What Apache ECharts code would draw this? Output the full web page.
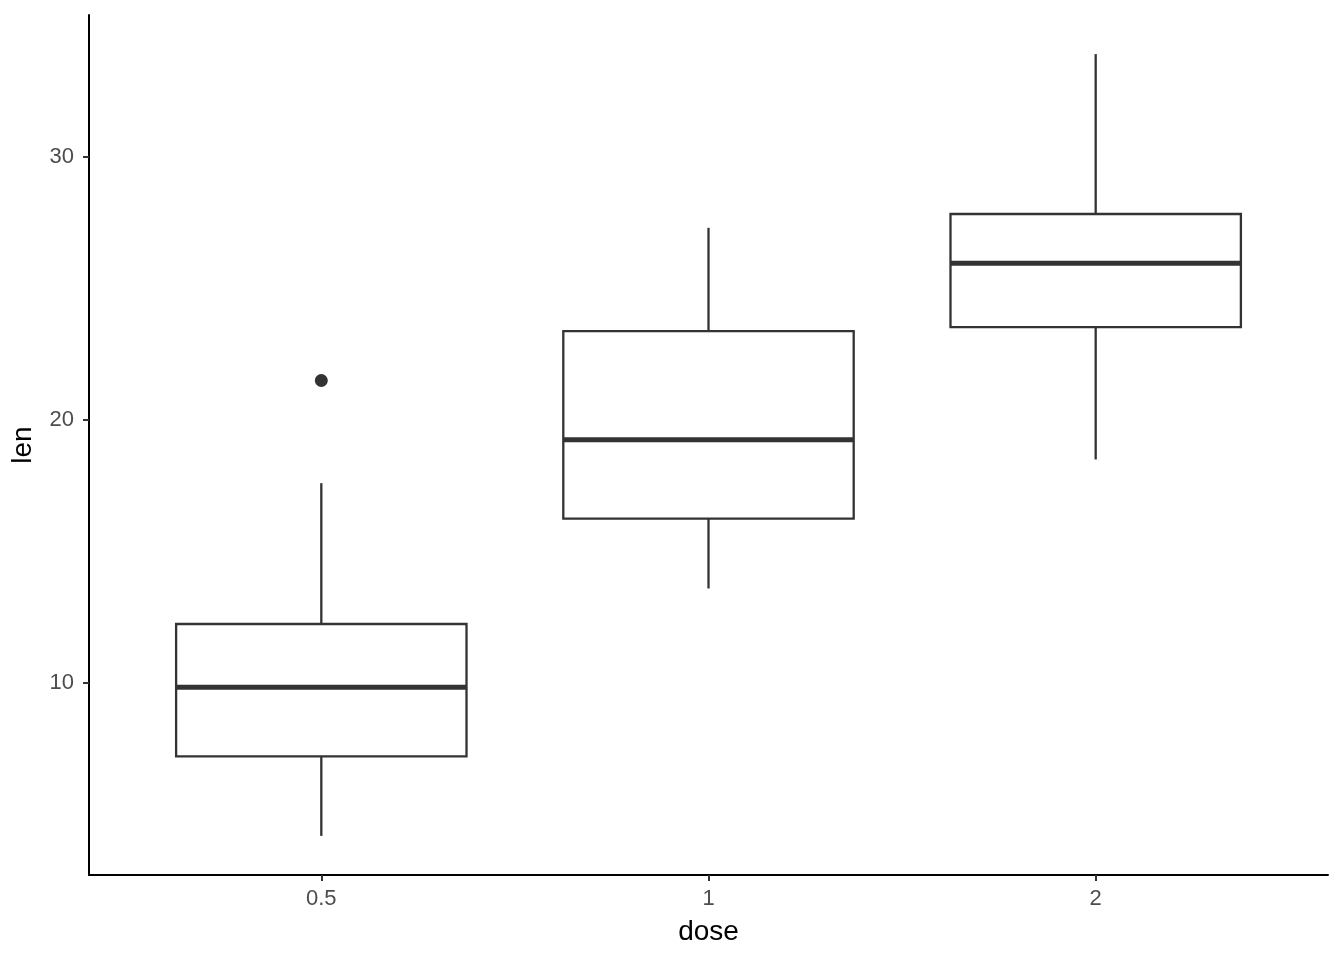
<!DOCTYPE html>
<html><head><meta charset="utf-8">
<script src="https://cdn.jsdelivr.net/npm/echarts@6/dist/echarts.min.js"></script>
<style>html,body{margin:0;padding:0;background:#fff}#c{width:1344px;height:960px}</style>
</head><body><div id="c"></div>
<script>
const categories = ['0.5', '1', '2'];
const lowerWhisker = [4.2, 13.6, 18.5];
const q1 = [7.225, 16.25, 23.525];
const median = [9.85, 19.25, 25.95];
const q3 = [12.25, 23.375, 27.825];
const upperWhisker = [17.6, 27.3, 33.9];
const outliers = [[1, 21.5]];
const yTicks = [10, 20, 30];

const boxData = categories.map((c, i) => [i + 1, lowerWhisker[i], q1[i], median[i], q3[i], upperWhisker[i]]);
const chart = echarts.init(document.getElementById('c'), null, {renderer: 'canvas'});
const lineCol = '#333333';
const font = 'Liberation Sans, Arial, sans-serif';
chart.setOption({
  animation: false,
  backgroundColor: '#ffffff',
  grid: {left: 89, right: 16, top: 15, bottom: 85, containLabel: false},
  xAxis: {
    type: 'value', min: 0.4, max: 3.6,
    name: 'dose', nameLocation: 'middle', nameGap: 43,
    nameTextStyle: {color: '#000', fontSize: 28, fontFamily: font},
    axisLine: {show: true, onZero: false, lineStyle: {color: '#000', width: 2}},
    axisTick: {show: true, length: 6, lineStyle: {color: '#333', width: 2}, customValues: [1, 2, 3]},
    axisLabel: {color: '#4d4d4d', fontSize: 22, margin: 13, fontFamily: font,
      customValues: [1, 2, 3], formatter: v => categories[Math.round(v) - 1]},
    splitLine: {show: false}
  },
  yAxis: {
    type: 'value', min: 2.715, max: 35.385,
    name: 'len', nameLocation: 'middle', nameGap: 52, nameRotate: 90,
    nameTextStyle: {color: '#000', fontSize: 28, fontFamily: font},
    axisLine: {show: true, onZero: false, lineStyle: {color: '#000', width: 2}},
    axisTick: {show: true, length: 6, lineStyle: {color: '#333', width: 2}, customValues: yTicks},
    axisLabel: {color: '#4d4d4d', fontSize: 22, margin: 15, fontFamily: font, customValues: yTicks},
    splitLine: {show: false}
  },
  series: [{
    type: 'custom',
    data: boxData,
    encode: {x: 0, y: [1, 2, 3, 4, 5]},
    renderItem: function (params, api) {
      const x = api.value(0);
      const halfW = 0.375;
      const pL = api.coord([x - halfW, api.value(2)]);
      const pR = api.coord([x + halfW, api.value(4)]);
      const pLo = api.coord([x, api.value(1)]);
      const pQ1 = api.coord([x, api.value(2)]);
      const pQ3 = api.coord([x, api.value(4)]);
      const pHi = api.coord([x, api.value(5)]);
      const mL = api.coord([x - halfW, api.value(3)]);
      const mR = api.coord([x + halfW, api.value(3)]);
      const st = {stroke: lineCol, lineWidth: 2.3, fill: null};
      return {type: 'group', children: [
        {type: 'line', shape: {x1: pLo[0], y1: pLo[1], x2: pQ1[0], y2: pQ1[1]}, style: st},
        {type: 'line', shape: {x1: pQ3[0], y1: pQ3[1], x2: pHi[0], y2: pHi[1]}, style: st},
        {type: 'rect', shape: {x: pL[0], y: pR[1], width: pR[0] - pL[0], height: pL[1] - pR[1]}, style: {stroke: lineCol, lineWidth: 2.3, fill: '#ffffff'}},
        {type: 'line', shape: {x1: mL[0], y1: mL[1], x2: mR[0], y2: mR[1]}, style: {stroke: lineCol, lineWidth: 5}}
      ]};
    }
  }, {
    type: 'scatter',
    data: outliers,
    symbol: 'circle', symbolSize: 13,
    itemStyle: {color: lineCol, opacity: 1}
  }]
});
</script></body></html>
